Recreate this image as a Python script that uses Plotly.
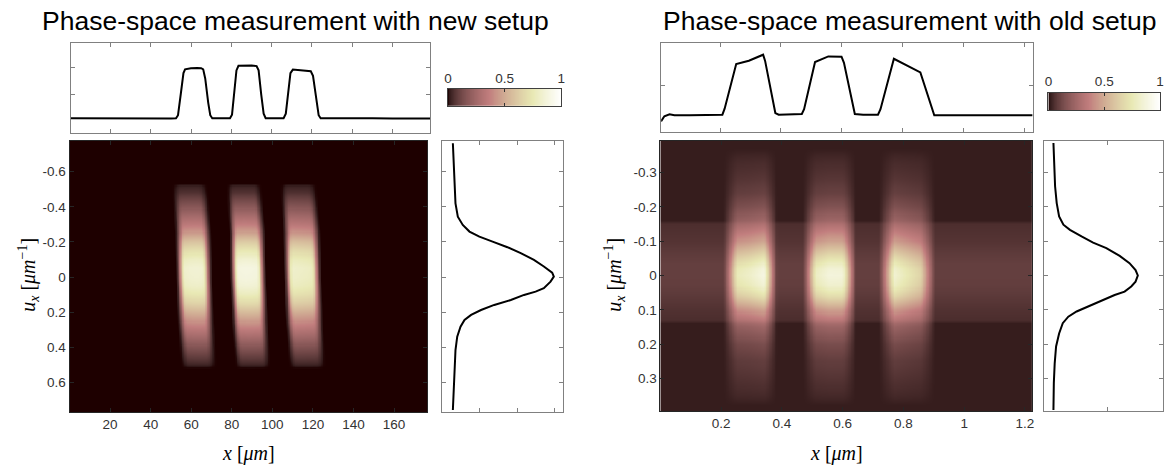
import numpy as np
import plotly.graph_objects as go

# ---------------- data: new setup ----------------
# x-profile (integrated over u), x in um
new_top_x = [0.3, 10, 20, 30, 40, 50, 52.5, 53.5, 55.0, 56.2, 57.0, 59.9, 63.0, 65.0, 66.0, 67.0, 68.5, 69.5, 70.5,
             75.0, 79.3, 80.3, 81.5, 82.5, 83.5, 87.0, 90.0, 92.5, 93.5, 94.8, 96.0, 97.0,
             101.0, 105.9, 107.0, 108.3, 109.3, 110.5, 114.0, 117.0, 119.4, 120.5, 122.0, 123.3, 124.3,
             130, 140, 150, 160, 170, 178.6]
new_top_v = [0.062, 0.060, 0.064, 0.062, 0.063, 0.061, 0.065, 0.12, 0.55, 0.90, 0.97, 0.99, 0.995, 0.99, 0.97, 0.80, 0.35, 0.12, 0.065,
             0.062, 0.065, 0.13, 0.60, 0.95, 1.035, 1.044, 1.04, 1.03, 0.95, 0.50, 0.15, 0.065,
             0.062, 0.065, 0.15, 0.60, 0.90, 0.965, 0.955, 0.945, 0.933, 0.85, 0.45, 0.12, 0.065,
             0.066, 0.060, 0.064, 0.058, 0.062, 0.060]

# u-profile (integrated over x), u in 1/um
new_side_u = [-0.762, -0.648, -0.534, -0.420, -0.344, -0.297, -0.259, -0.230, -0.202, -0.170, -0.136, -0.098, -0.060,
              -0.025, -0.002, 0.026, 0.064, 0.083, 0.102, 0.131, 0.159, 0.188, 0.216, 0.245, 0.283, 0.340, 0.416,
              0.530, 0.644, 0.758]
new_side_v = [0.145, 0.154, 0.167, 0.180, 0.211, 0.277, 0.366, 0.498, 0.674, 0.872, 1.049, 1.225, 1.357,
              1.468, 1.490, 1.446, 1.357, 1.247, 1.093, 0.917, 0.696, 0.520, 0.388, 0.300, 0.247, 0.203, 0.180,
              0.167, 0.154, 0.145]

# brightness along the slit images in phase space
new_env_u = [-0.775, -0.53, -0.515, -0.48, -0.44, -0.40, -0.35, -0.30, -0.25, -0.20, -0.15, -0.10, -0.05, 0.0,
             0.05, 0.10, 0.15, 0.20, 0.25, 0.30, 0.35, 0.40, 0.45, 0.49, 0.505, 0.52, 0.77]
new_env_v = [0.0, 0.0, 0.03, 0.06, 0.12, 0.18, 0.27, 0.36, 0.47, 0.62, 0.74, 0.84, 0.89, 0.88,
             0.85, 0.78, 0.68, 0.56, 0.45, 0.35, 0.26, 0.17, 0.10, 0.05, 0.03, 0.0, 0.0]
# slit image drift along x versus u
new_shift_u = [-0.775, -0.5, -0.25, 0.0, 0.25, 0.5, 0.77]
new_shift_v = [-2.0, -2.0, -0.5, 0.0, 0.8, 2.2, 2.2]

# ---------------- data: old setup ----------------
old_top_x = [0.006, 0.017, 0.034, 0.05, 0.10, 0.15, 0.200, 0.2076, 0.215, 0.253, 0.2946, 0.3414, 0.348, 0.3816, 0.3925,
             0.43, 0.4686, 0.476, 0.512, 0.5556, 0.599, 0.607, 0.6427, 0.6700, 0.7188, 0.727, 0.771, 0.858, 0.9037,
             0.912, 0.95, 1.0, 1.1, 1.2267]
old_top_v = [-0.075, 0.006, 0.038, 0.022, 0.022, 0.022, 0.026, 0.032, 0.13, 0.849, 0.903, 1.0, 0.90, 0.059, 0.032,
             0.035, 0.043, 0.12, 0.882, 0.973, 0.968, 0.87, 0.043, 0.032, 0.032, 0.12, 0.935, 0.715, 0.022,
             0.022, 0.022, 0.022, 0.022, 0.022]

old_side_u = [-0.386, -0.328, -0.260, -0.211, -0.172, -0.148, -0.133, -0.114, -0.096, -0.080, -0.057, -0.036, -0.016,
              0.0, 0.018, 0.032, 0.047, 0.057, 0.076, 0.091, 0.105, 0.120, 0.139, 0.169, 0.207, 0.256, 0.314, 0.392]
old_side_v = [0.074, 0.079, 0.087, 0.100, 0.119, 0.153, 0.205, 0.297, 0.389, 0.494, 0.600, 0.678, 0.726,
              0.744, 0.726, 0.692, 0.639, 0.560, 0.442, 0.337, 0.258, 0.192, 0.148, 0.119, 0.095, 0.084, 0.077, 0.074]

# horizontal background band and slit brightness along u
old_band_u = [-0.395, -0.16, -0.15, -0.10, -0.06, -0.03, 0.0, 0.03, 0.06, 0.10, 0.13, 0.14, 0.395]
old_band_v = [0.02, 0.02, 0.05, 0.062, 0.08, 0.092, 0.092, 0.088, 0.075, 0.058, 0.048, 0.02, 0.02]
old_env_u = [-0.395, -0.37, -0.33, -0.28, -0.24, -0.20, -0.15, -0.10, -0.05, -0.02, 0.0, 0.03, 0.06, 0.10, 0.15,
             0.20, 0.25, 0.30, 0.35, 0.38, 0.395]
old_env_v = [0.0, 0.0, 0.025, 0.05, 0.08, 0.14, 0.25, 0.42, 0.65, 0.78, 0.80, 0.76, 0.64, 0.42, 0.22,
             0.12, 0.07, 0.045, 0.02, 0.0, 0.0]

# ---------------- colour map (MATLAB "pink") ----------------
def pink_scale(m=64):
    n1 = int(3 * m / 8)
    idx = np.arange(1, m + 1)
    r = np.where(idx <= n1, idx / n1, 1.0)
    g = np.clip((idx - n1) / n1, 0, 1)
    b = np.clip((idx - 2 * n1) / (m - 2 * n1), 0, 1)
    gray = np.arange(m) / (m - 1)
    cols = np.sqrt((2 * gray[:, None] + np.stack([r, g, b], 1)) / 3)
    return [[i / (m - 1), "rgb(%d,%d,%d)" % tuple(np.round(c * 255))] for i, c in enumerate(cols)]

PINK = pink_scale()

# ---------------- phase-space maps ----------------
xg_new = np.linspace(0.0, 176.3, 500)
ug_new = np.linspace(-0.775, 0.769, 260)
bar_new = np.clip(np.array(new_top_v) - 0.068, 0, None)
bar_new = bar_new / bar_new.max()
shift_new = np.interp(ug_new, new_shift_u, new_shift_v)
env_new = np.interp(ug_new, new_env_u, new_env_v)
Z_new = np.array([e * np.interp(xg_new - s, new_top_x, bar_new) for e, s in zip(env_new, shift_new)])

xg_old = np.linspace(0.0, 1.223, 500)
ug_old = np.linspace(-0.392, 0.395, 260)
bar_old = np.clip(np.array(old_top_v) - 0.045, 0, None)
bar_old = bar_old / bar_old.max()
band_old = np.interp(ug_old, old_band_u, old_band_v)
env_old = np.interp(ug_old, old_env_u, old_env_v)
Z_old = np.array([bd + e * np.interp(xg_old, old_top_x, bar_old) for bd, e in zip(band_old, env_old)])

W, H = 1167, 468
def fx(a, b):
    return [a / W, b / W]
def fy(top, bot):
    return [1 - bot / H, 1 - top / H]

fig = go.Figure()

# new setup
fig.add_trace(go.Heatmap(x=xg_new, y=ug_new, z=Z_new, colorscale=PINK, zmin=0, zmax=1,
                         showscale=False, xaxis="x", yaxis="y", hoverinfo="skip"))
fig.add_trace(go.Scatter(x=new_top_x, y=new_top_v, mode="lines", line=dict(color="black", width=2),
                         xaxis="x2", yaxis="y2"))
fig.add_trace(go.Scatter(x=new_side_v, y=new_side_u, mode="lines", line=dict(color="black", width=2),
                         xaxis="x3", yaxis="y3"))
cb = np.linspace(0, 1, 256)
fig.add_trace(go.Heatmap(x=cb, y=[0, 1], z=[cb, cb], colorscale=PINK, zmin=0, zmax=1,
                         showscale=False, xaxis="x4", yaxis="y4", hoverinfo="skip"))

# old setup
fig.add_trace(go.Heatmap(x=xg_old, y=ug_old, z=Z_old, colorscale=PINK, zmin=0, zmax=1,
                         showscale=False, xaxis="x5", yaxis="y5", hoverinfo="skip"))
fig.add_trace(go.Scatter(x=old_top_x, y=old_top_v, mode="lines", line=dict(color="black", width=2),
                         xaxis="x6", yaxis="y6"))
fig.add_trace(go.Scatter(x=old_side_v, y=old_side_u, mode="lines", line=dict(color="black", width=2),
                         xaxis="x7", yaxis="y7"))
fig.add_trace(go.Heatmap(x=cb, y=[0, 1], z=[cb, cb], colorscale=PINK, zmin=0, zmax=1,
                         showscale=False, xaxis="x8", yaxis="y8", hoverinfo="skip"))

TICKFONT = dict(family="Liberation Sans, Arial", size=13.5, color="#333333")

def hm_axis(dom, anchor, rng, vals, texts):
    return dict(domain=dom, anchor=anchor, range=rng, tickvals=vals, ticktext=texts, ticks="inside",
                ticklen=4, tickcolor="#262626", showline=True, linecolor="#262626", linewidth=1,
                mirror="ticks", showgrid=False, zeroline=False, tickfont=TICKFONT)

def prof_axis(dom, anchor, rng, vals):
    return dict(domain=dom, anchor=anchor, range=rng, tickvals=vals, showticklabels=False, ticks="inside",
                ticklen=4, tickcolor="#808080", showline=True, linecolor="#808080", linewidth=1,
                mirror="ticks", showgrid=False, zeroline=False)

def cbar_axes(dx, dy, xa, ya):
    xax = dict(domain=dx, anchor=ya, range=[0, 1], side="top", tickvals=[0, 0.5, 1], ticktext=["0", "0.5", "1"],
               ticks="inside", ticklen=3, tickcolor="#333333", showline=True, linecolor="#404040", linewidth=1,
               mirror="ticks", showgrid=False, zeroline=False, tickfont=TICKFONT)
    yax = dict(domain=dy, anchor=xa, range=[0, 1], showticklabels=False, ticks="", showline=True,
               linecolor="#404040", linewidth=1, mirror=True, showgrid=False, zeroline=False)
    return xax, yax

new_xt = [20, 40, 60, 80, 100, 120, 140, 160]
new_ut = [-0.6, -0.4, -0.2, 0, 0.2, 0.4, 0.6]
old_xt = [0.2, 0.4, 0.6, 0.8, 1.0, 1.2]
old_ut = [-0.3, -0.2, -0.1, 0, 0.1, 0.2, 0.3]

def lab(v):
    return "%g" % v

hm_dom_y = fy(141, 412)
lay = dict(
    xaxis=hm_axis(fx(66, 426), "y", [0.0, 176.3], new_xt, [lab(v) for v in new_xt]),
    yaxis=hm_axis(hm_dom_y, "x", [0.769, -0.775], new_ut, [lab(v) for v in new_ut]),
    xaxis2=prof_axis(fx(67.3, 429), "y2", [0.3, 178.6], new_xt),
    yaxis2=prof_axis(fy(43, 133), "x2", [-0.209, 1.457], [0.5, 1.0]),
    xaxis3=prof_axis(fx(441, 563), "y3", [0, 1.614], [0.5, 1.0, 1.5]),
    yaxis3=prof_axis(hm_dom_y, "x3", [0.769, -0.775], new_ut),
    xaxis5=hm_axis(fx(661, 1035), "y5", [0.0, 1.223], old_xt, [lab(v) for v in old_xt]),
    yaxis5=hm_axis(fy(141, 411), "x5", [0.395, -0.392], old_ut, [lab(v) for v in old_ut]),
    xaxis6=prof_axis(fx(661.7, 1035.7), "y6", [0.0065, 1.2267], old_xt),
    yaxis6=prof_axis(fy(43, 132.3), "x6", [-0.252, 1.189], [0.5]),
    xaxis7=prof_axis(fx(1047.3, 1167), "y7", [0, 0.944], [0.5]),
    yaxis7=prof_axis(fy(141, 411), "x7", [0.395, -0.392], old_ut),
)
lay["xaxis4"], lay["yaxis4"] = cbar_axes(fx(447, 561), fy(89, 105.7), "x4", "y4")
lay["xaxis8"], lay["yaxis8"] = cbar_axes(fx(1051.7, 1164), fy(92.7, 110), "x8", "y8")

TITLEFONT = dict(family="Liberation Sans, Arial", size=26.5, color="black")
LABFONT = dict(family="Liberation Serif, DejaVu Serif", size=20, color="black")
annotations = [
    dict(text="Phase-space measurement with new setup", x=294 / W, y=1 - 21 / H, font=TITLEFONT),
    dict(text="Phase-space measurement with old setup", x=912 / W, y=1 - 21 / H, font=TITLEFONT),
    dict(text="<i>x</i> [<i>μm</i>]", x=246 / W, y=1 - 453 / H, font=LABFONT),
    dict(text="<i>x</i> [<i>μm</i>]", x=838 / W, y=1 - 453 / H, font=LABFONT),
    dict(text="<i>u<sub>x</sub></i> [<i>μm</i><sup>−1</sup>]", x=25 / W, y=1 - 275 / H, textangle=-90, font=LABFONT),
    dict(text="<i>u<sub>x</sub></i> [<i>μm</i><sup>−1</sup>]", x=615 / W, y=1 - 275 / H, textangle=-90, font=LABFONT),
]
for a in annotations:
    a.update(xref="paper", yref="paper", showarrow=False, xanchor="center", yanchor="middle")

fig.update_layout(width=W, height=H, margin=dict(l=0, r=0, t=0, b=0), paper_bgcolor="white",
                  plot_bgcolor="white", showlegend=False, annotations=annotations, **lay)

fig.write_html("out.html")
